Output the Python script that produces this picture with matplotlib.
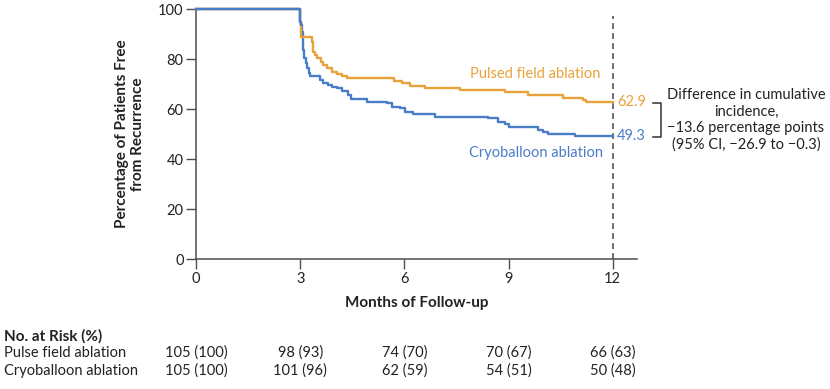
import matplotlib
matplotlib.use("Agg")
import matplotlib.pyplot as plt
import matplotlib.transforms as mtransforms

plt.rcParams['font.family'] = ['Lato', 'DejaVu Sans']

# Kaplan-Meier step data (months, % free from recurrence)
pfa_t = [0, 3.0, 3.01, 3.02, 3.33, 3.36, 3.43, 3.49, 3.59, 3.67, 3.78, 3.91, 4.05, 4.2, 4.34,
         5.69, 5.93, 6.17, 6.6, 7.6, 8.9, 9.57, 10.58, 11.15, 11.23, 12.0]
pfa_s = [100, 95, 91, 88.8, 87, 83, 81.7, 80.4, 79, 77.7, 76.4, 75, 74.3, 73.4, 72.6,
         71.5, 70.4, 69.5, 68.5, 67.7, 66.8, 65.8, 64.7, 63.8, 62.9, 62.9]

cryo_t = [0, 3.0, 3.02, 3.04, 3.07, 3.09, 3.11, 3.16, 3.2, 3.25, 3.29, 3.56, 3.67, 3.8, 3.92,
          4.06, 4.2, 4.39, 4.46, 4.93, 5.5, 5.64, 5.88, 6.02, 6.26, 6.89, 8.42, 8.71, 8.9,
          9.0, 9.86, 10.0, 10.15, 10.92, 12.0]
cryo_s = [100, 95, 93.7, 91, 87.7, 83.7, 80.4, 78.4, 76.4, 74.4, 73.3, 71.7, 70.4, 69.7, 69,
          68.4, 67.4, 65.7, 64.2, 62.9, 62.4, 61, 60.4, 59, 58.1, 57.1, 56.4, 55, 54,
          53, 51.7, 51, 50.1, 49.3, 49.3]

x_ticks = [0, 3, 6, 9, 12]
y_ticks = [0, 20, 40, 60, 80, 100]
pfa_label = "Pulsed field ablation"
cryo_label = "Cryoballoon ablation"
pfa_final = 62.9
cryo_final = 49.3
diff_text = "Difference in cumulative\nincidence,\n\u221213.6 percentage points\n(95% CI, \u221226.9 to \u22120.3)"

risk_rows = ["Pulse field ablation", "Cryoballoon ablation"]
risk_pfa = ["105 (100)", "98 (93)", "74 (70)", "70 (67)", "66 (63)"]
risk_cryo = ["105 (100)", "101 (96)", "62 (59)", "54 (51)", "50 (48)"]

ORANGE = "#E8A23A"
BLUE = "#4A7DC8"
AXC = "#4d4d4d"
TXT = "#222222"

fig = plt.figure(figsize=(8.30, 3.89), dpi=100)
ax = fig.add_axes([196 / 830, 1 - 259.3 / 389, (636.7 - 196) / 830, (259.3 - 9.3) / 389])

ax.step(cryo_t, cryo_s, where='post', color=BLUE, lw=1.7, clip_on=False, zorder=3)
ax.step(pfa_t, pfa_s, where='post', color=ORANGE, lw=1.7, clip_on=False, zorder=4)
ax.step(cryo_t[:3], cryo_s[:3], where='post', color=BLUE, lw=1.7, clip_on=False, zorder=5)

ax.set_xlim(0, 12.69)
ax.set_ylim(0, 100)
ax.plot([12, 12], [0, 97.3], ls=(0, (3.5, 2.5)), color="#555555", lw=1.2, clip_on=False)

for s in ['top', 'right']:
    ax.spines[s].set_visible(False)
for s in ['left', 'bottom']:
    ax.spines[s].set_color(AXC)
    ax.spines[s].set_linewidth(1.1)
ax.set_xticks(x_ticks)
ax.set_yticks(y_ticks)
ax.tick_params(axis='both', direction='out', length=7, width=1.0, color=AXC,
               labelsize=10.5, labelcolor=TXT, pad=2)

ax.text(0.5, (259.3 - 303) / 250, "Months of Follow-up", transform=ax.transAxes,
        ha='center', va='center', fontsize=11, fontweight='bold', color=TXT)
fig.text(130 / 830, 1 - 134 / 389, "Percentage of Patients Free\nfrom Recurrence",
         rotation=90, ha='center', va='center', fontsize=11, fontweight='bold',
         color=TXT, linespacing=1.1)

ax.text(7.9, 74.2, pfa_label, color=ORANGE, fontsize=10.5, ha='left', va='center')
ax.text(7.85, 42.5, cryo_label, color=BLUE, fontsize=10.5, ha='left', va='center')
ax.text(12.12, pfa_final, f"{pfa_final}", color=ORANGE, fontsize=10.5, ha='left', va='center')
ax.text(12.12, cryo_final, f"{cryo_final}", color=BLUE, fontsize=10.5, ha='left', va='center')

# bracket
ax.plot([13.15, 13.4, 13.4, 13.15], [62.6, 62.6, 48.8, 48.8], color="#333333", lw=1.1,
        clip_on=False)
fig.text(746 / 830, 1 - 120 / 389, diff_text, ha='center', va='center', fontsize=10.5,
         color=TXT, linespacing=1.2)

# numbers at risk
fig.text(4 / 830, 1 - 336 / 389, "No. at Risk (%)", ha='left', va='center', fontsize=11,
         fontweight='bold', color=TXT)
trans = mtransforms.blended_transform_factory(ax.transData, fig.transFigure)
for row_y, name, vals in [(353, risk_rows[0], risk_pfa), (371, risk_rows[1], risk_cryo)]:
    fig.text(4 / 830, 1 - row_y / 389, name, ha='left', va='center', fontsize=10.5, color=TXT)
    for xt, v in zip(x_ticks, vals):
        ax.text(xt, 1 - row_y / 389, v, transform=trans, ha='center', va='center',
                fontsize=10.5, color=TXT, clip_on=False)

fig.savefig("out.png", dpi=100)
